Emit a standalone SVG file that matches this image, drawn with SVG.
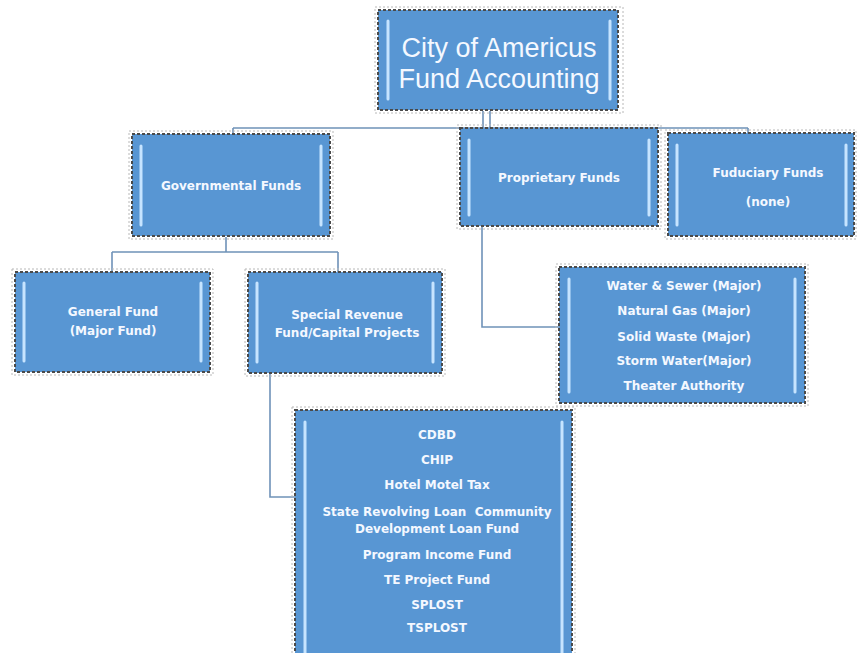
<svg xmlns="http://www.w3.org/2000/svg" width="857" height="653" viewBox="0 0 857 653">
<style>
.box{fill:#5896d3;stroke:#4a4a4a;stroke-width:2;stroke-dasharray:3 2}
.frame{fill:none;stroke:#b8b8b8;stroke-width:1;stroke-dasharray:2 2}
.hl{stroke:#c6e4ff;stroke-width:3;stroke-linecap:round}
.conn{fill:none;stroke:#6f92b8;stroke-width:1.6}
.t{font-family:"DejaVu Sans",Verdana,sans-serif;font-size:12px;font-weight:bold;fill:#f4f8ff;text-anchor:middle}
.big{font-family:"Liberation Sans",Arial,sans-serif;font-size:27px;fill:#f4f8ff;text-anchor:middle}
</style>
<g id="connectors">
<path class="conn" d="M483 111 V128 M233 128 H748 M233 128 V134 M490 111 V128 M748 128 V133"/>
<path class="conn" d="M226 237 V252 M112 252 H338 M112 252 V272 M338 252 V272"/>
<path class="conn" d="M482 227 V327 H559"/>
<path class="conn" d="M270 373 V497 H295"/>
</g>
<g id="root">
<rect class="frame" x="375" y="7" width="248" height="106"/>
<rect class="box" x="378" y="10" width="240" height="100"/>
<line class="hl" x1="388" y1="21" x2="388" y2="99"/><line class="hl" x1="610" y1="21" x2="610" y2="99"/>
<text class="big" x="499" y="57">City of Americus</text>
<text class="big" x="499" y="88">Fund Accounting</text>
</g>
<g id="governmental">
<rect class="frame" x="129" y="131" width="204" height="108"/>
<rect class="box" x="132" y="134" width="198" height="102"/>
<line class="hl" x1="141" y1="146" x2="141" y2="225"/><line class="hl" x1="321" y1="146" x2="321" y2="225"/>
<text class="t" x="231" y="190">Governmental Funds</text>
</g>
<g id="proprietary">
<rect class="frame" x="457" y="125" width="204" height="104"/>
<rect class="box" x="460" y="128" width="198" height="98"/>
<line class="hl" x1="469" y1="140" x2="469" y2="215"/><line class="hl" x1="649" y1="140" x2="649" y2="215"/>
<text class="t" x="559" y="182">Proprietary Funds</text>
</g>
<g id="fiduciary">
<rect class="frame" x="665" y="130" width="191" height="109"/>
<rect class="box" x="668" y="133" width="186" height="103"/>
<line class="hl" x1="677" y1="145" x2="677" y2="225"/><line class="hl" x1="846" y1="145" x2="846" y2="225"/>
<text class="t" x="768" y="177">Fuduciary Funds</text>
<text class="t" x="768" y="206">(none)</text>
</g>
<g id="general">
<rect class="frame" x="12" y="269" width="201" height="106"/>
<rect class="box" x="15" y="272" width="195" height="100"/>
<line class="hl" x1="24" y1="283" x2="24" y2="361"/><line class="hl" x1="201" y1="283" x2="201" y2="361"/>
<text class="t" x="113" y="316">General Fund</text>
<text class="t" x="113" y="335">(Major Fund)</text>
</g>
<g id="special">
<rect class="frame" x="245" y="269" width="200" height="107"/>
<rect class="box" x="248" y="272" width="194" height="101"/>
<line class="hl" x1="257" y1="283" x2="257" y2="362"/><line class="hl" x1="433" y1="283" x2="433" y2="362"/>
<text class="t" x="347" y="319">Special Revenue</text>
<text class="t" x="347" y="337">Fund/Capital Projects</text>
</g>
<g id="enterprise">
<rect class="frame" x="556" y="264" width="252" height="142"/>
<rect class="box" x="559" y="267" width="246" height="136"/>
<line class="hl" x1="569" y1="279" x2="569" y2="392"/><line class="hl" x1="795" y1="279" x2="795" y2="392"/>
<text class="t" x="684" y="290">Water &amp; Sewer (Major)</text>
<text class="t" x="684" y="315">Natural Gas (Major)</text>
<text class="t" x="684" y="341">Solid Waste (Major)</text>
<text class="t" x="684" y="365">Storm Water(Major)</text>
<text class="t" x="684" y="390">Theater Authority</text>
</g>
<g id="special-list">
<rect class="frame" x="292" y="407" width="283" height="250"/>
<rect class="box" x="295" y="410" width="277" height="246"/>
<line class="hl" x1="305" y1="422" x2="305" y2="660"/><line class="hl" x1="562" y1="422" x2="562" y2="660"/>
<text class="t" x="437" y="439">CDBD</text>
<text class="t" x="437" y="464">CHIP</text>
<text class="t" x="437" y="489">Hotel Motel Tax</text>
<text class="t" x="437" y="516" xml:space="preserve">State Revolving Loan  Community</text>
<text class="t" x="437" y="533">Development Loan Fund</text>
<text class="t" x="437" y="559">Program Income Fund</text>
<text class="t" x="437" y="584">TE Project Fund</text>
<text class="t" x="437" y="609">SPLOST</text>
<text class="t" x="437" y="632">TSPLOST</text>
</g>
</svg>
